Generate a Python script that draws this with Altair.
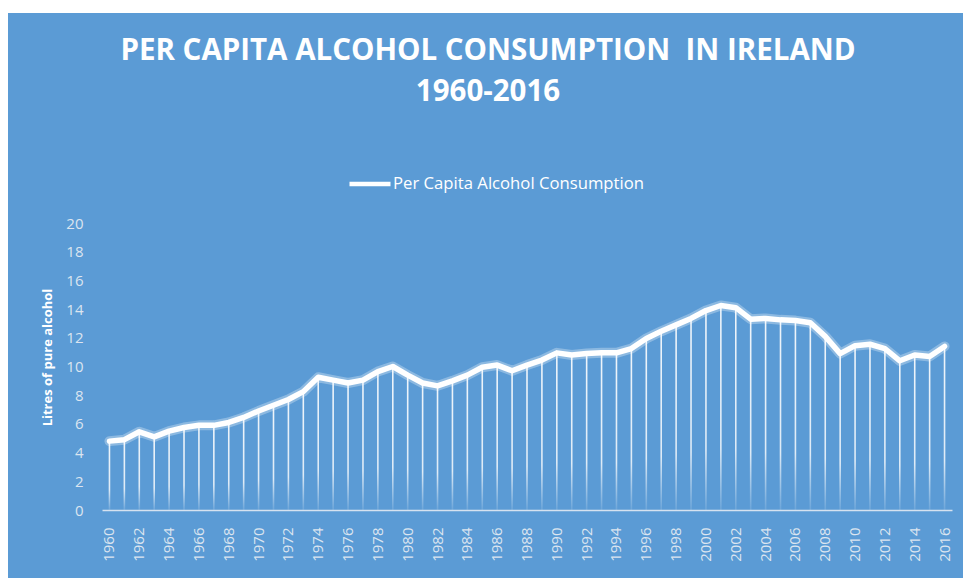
import altair as alt
import pandas as pd

years = list(range(1960, 2017))
values = [4.8, 4.9, 5.45, 5.1, 5.5, 5.75, 5.9, 5.9, 6.1, 6.45,
          6.9, 7.3, 7.7, 8.25, 9.25, 9.05, 8.85, 9.05, 9.65, 10.0,
          9.4, 8.85, 8.65, 9.0, 9.4, 9.95, 10.1, 9.7, 10.1, 10.45,
          10.95, 10.8, 10.9, 10.95, 10.95, 11.25, 11.95, 12.45, 12.9, 13.35,
          13.9, 14.25, 14.1, 13.3, 13.35, 13.25, 13.2, 13.05, 12.1, 10.9,
          11.45, 11.55, 11.25, 10.4, 10.8, 10.7, 11.4]
series_name = "Per Capita Alcohol Consumption"
y_ticks = list(range(0, 21, 2))
x_ticks = [y for y in years if y % 2 == 0]
title_lines = ["PER CAPITA ALCOHOL CONSUMPTION\u00a0 IN IRELAND", "1960-2016"]

df = pd.DataFrame({"year": years, "value": values, "series": [series_name] * len(years)})

BLUE = "#5B9BD5"
LABEL = "#DCE5F0"
W, H = 850, 287
PL, PT, PR, PB = 102, 223, 11, 68

xenc = alt.X("year:O", scale=alt.Scale(type="band", paddingInner=0, paddingOuter=0),
             axis=alt.Axis(title=None, values=x_ticks, labelAngle=270, ticks=False,
                           domainColor="#D6E2F0", domainWidth=1.5, labelPadding=17,
                           labelFont="Open Sans", labelFontSize=15, labelColor=LABEL,
                           grid=False, zindex=1))
yenc = alt.Y("value:Q", scale=alt.Scale(domain=[0, 20], nice=False),
             axis=alt.Axis(values=y_ticks, grid=False, domain=False, ticks=False,
                           labelPadding=19, labelFont="Open Sans", labelFontSize=15,
                           labelColor=LABEL, title="Litres of pure alcohol",
                           titleFont="Open Sans", titleFontSize=13, titleFontWeight="bold",
                           titleColor="white", titleX=-55, titleY=134, titleAngle=270,
                           titleAlign="center", titleBaseline="middle", zindex=1))

base = alt.Chart(df)

drops = base.mark_bar(
    width=1.6,
    color=alt.LinearGradient(
        gradient="linear", x1=0, x2=0, y1=0, y2=1,
        stops=[alt.GradientStop(color="rgba(255,255,255,0.9)", offset=0),
               alt.GradientStop(color="rgba(255,255,255,0.8)", offset=0.7),
               alt.GradientStop(color="rgba(255,255,255,0.1)", offset=1)])
).encode(x=xenc, y=yenc)

glow = base.mark_line(color="white", strokeWidth=10, opacity=0.3,
                      strokeJoin="round", strokeCap="round").encode(x=xenc, y=yenc)

line = base.mark_line(strokeWidth=5.5, strokeJoin="round", strokeCap="round").encode(
    x=xenc, y=yenc,
    color=alt.Color("series:N", scale=alt.Scale(range=["white"]),
                    legend=alt.Legend(title=None, orient="none", legendX=245, legendY=-62,
                                      symbolType="stroke", symbolSize=1681,
                                      symbolStrokeWidth=4.5, labelFont="Open Sans",
                                      labelFontSize=16.7, labelColor="white",
                                      labelLimit=400, labelOffset=0, zindex=1))
)

one = alt.Chart(pd.DataFrame({"a": [0]}))
white_left = one.mark_rect(color="white").encode(
    x=alt.value(-PL), x2=alt.value(-PL + 8), y=alt.value(-PT), y2=alt.value(H + PB))
white_top = one.mark_rect(color="white").encode(
    x=alt.value(-PL), x2=alt.value(W + PR), y=alt.value(-PT), y2=alt.value(-PT + 13))

chart = alt.layer(drops, glow, line, white_left, white_top).properties(
    width=W, height=H,
    title=alt.TitleParams(text=title_lines,
                          font="Open Sans", fontSize=29.5, fontWeight="bold", color="white",
                          anchor="middle", dx=-39, offset=-107, lineHeight=41, zindex=1),
    autosize=alt.AutoSizeParams(type="none"),
    padding={"left": PL, "top": PT, "right": PR, "bottom": PB},
    background=BLUE,
).configure_view(stroke=None)

chart.save("out.html", embed_options={"renderer": "svg", "actions": False})
